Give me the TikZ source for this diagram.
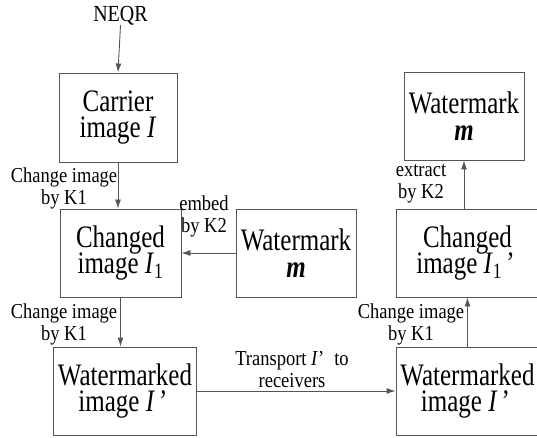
\documentclass[tikz,border=0pt]{standalone}
\usepackage{fontspec}
\usepackage{graphicx}
\setmainfont{Liberation Serif}
\usetikzlibrary{arrows.meta}
\definecolor{ln}{HTML}{555555}
\newcommand{\vs}[1]{\scalebox{1}[1.25]{#1}}
\newcommand{\vl}[1]{\scalebox{1}[1.15]{#1}}
\lineskiplimit=-30pt
\lineskip=0pt
\begin{document}
\lineskiplimit=-30pt
\begin{tikzpicture}[x=1pt,y=-1pt,
  box/.style={draw=ln,line width=0.9pt,align=center,font=\fontsize{25}{26.5}\selectfont,inner sep=0pt},
  lbl/.style={align=center,font=\fontsize{18.5}{22}\selectfont,inner sep=0pt},
  arr/.style={draw=ln,line width=0.9pt,-{Latex[length=9pt,width=6pt]}}]
\useasboundingbox (0,0) rectangle (537,438);
\node[box,minimum width=118pt,minimum height=89pt] (car) at (118,117.5) {\vs{Carrier}\\\vs{image \textit{I}}};
\node[box,minimum width=121pt,minimum height=88pt] (ch) at (120.5,253) {\vs{Changed}\\\vs{image \textit{I}$_{\mathrm{1}}$}};
\node[box,minimum width=120pt,minimum height=88pt] (wm) at (296,253) {\vs{Watermark}\\\vs{\textit{\textbf{m}}}};
\node[box,minimum width=143pt,minimum height=88pt] (wl) at (125,391) {\vs{Watermarked}\\\vs{image \textit{I}\,’\hspace{4pt}}};
\node[box,minimum width=143pt,minimum height=88pt] (wr) at (467.5,391) {\vs{Watermarked}\\\vs{image \textit{I}\,’\hspace{4pt}}};
\node[box,minimum width=143pt,minimum height=88pt] (chr) at (467.5,253) {\vs{Changed}\\\vs{image \textit{I}$_{\mathrm{1}}$\,’\hspace{4pt}}};
\node[box,minimum width=120pt,minimum height=88pt] (wtr) at (464,116) {\vs{Watermark}\\\vs{\textit{\textbf{m}}}};
\node[lbl,font=\fontsize{20}{22}\selectfont] (neqr) at (120.5,15.5) {\vl{NEQR}};
\draw[arr] (neqr.south) -- (car.north);
\draw[arr] (car.south) -- (car.south |- ch.north);
\node[lbl] (l1) at (64,188) {\vl{Change image}\\\vl{by K1}};
\draw[arr] (wm.west) -- (ch.east);
\node[lbl] (l2) at (204,216) {\vl{embed}\\\vl{by K2}};
\draw[arr] (ch.south) -- (ch.south |- wl.north);
\node[lbl] (l3) at (64,324) {\vl{Change image}\\\vl{by K1}};
\draw[arr] (wl.east) -- (wr.west);
\node[lbl] (l4) at (292,370) {\vl{Transport \textit{I}’\hspace{10pt}to}\\\vl{receivers}};
\draw[arr] (wr.north) -- (chr.south);
\node[lbl] (l5) at (411,324) {\vl{Change image}\\\vl{by K1}};
\draw[arr] (chr.north -| wtr.south) -- (wtr.south);
\node[lbl] (l6) at (421,184) {\vl{extract}\\\vl{by K2}};
\end{tikzpicture}
\end{document}
